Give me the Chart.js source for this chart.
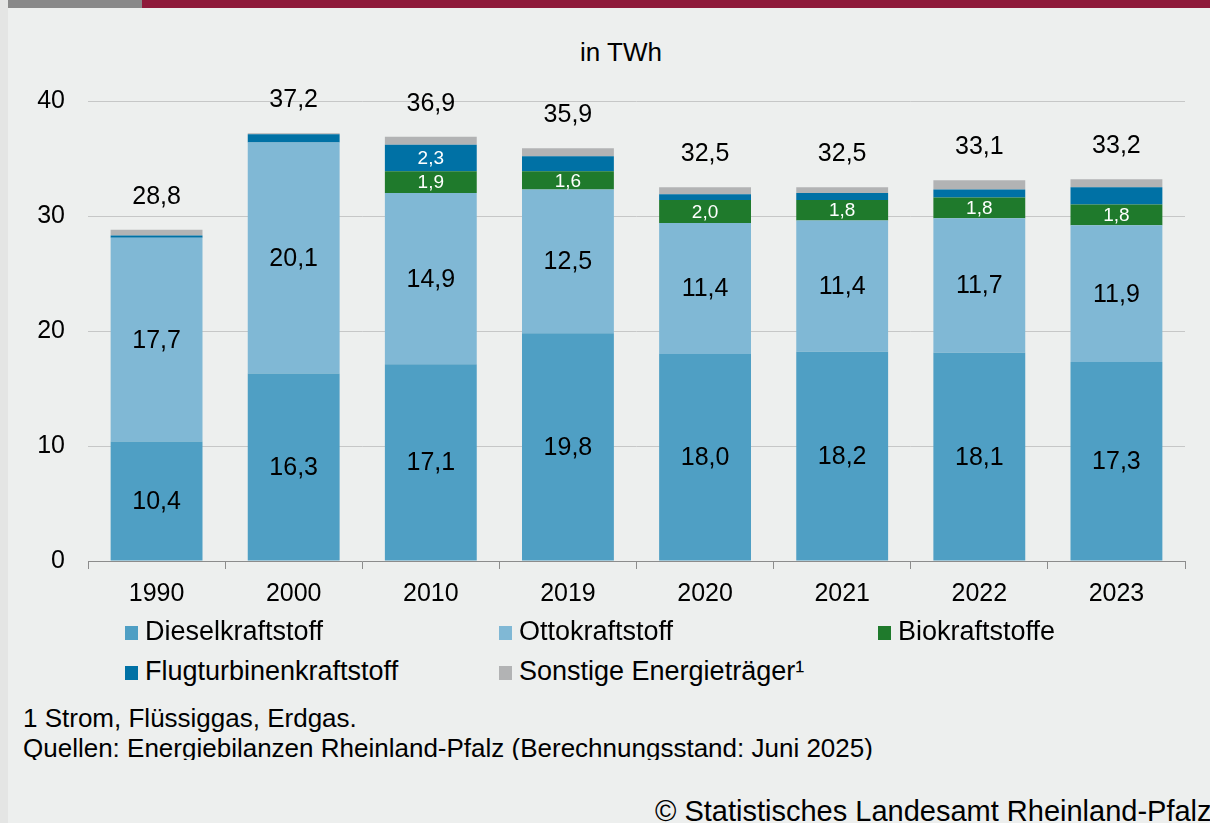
<!DOCTYPE html>
<html lang="de">
<head>
<meta charset="utf-8">
<title>Kraftstoffverbrauch Rheinland-Pfalz</title>
<script src="https://cdn.jsdelivr.net/npm/chart.js@4/dist/chart.umd.min.js"></script>
<style>
  html, body { margin: 0; padding: 0; }
  body {
    width: 1210px; height: 823px; overflow: hidden; position: relative;
    background: #edefee;
    font-family: 'Liberation Sans', Arial, sans-serif; color: #000;
  }
  .edge { position: absolute; left: 0; top: 0; width: 8px; height: 823px; background: #e4e5e4; }
  .bar-grey { position: absolute; left: 8px; top: 0; width: 134px; height: 8px; background: #898989; }
  .bar-red { position: absolute; left: 142px; top: 0; width: 1068px; height: 8px; background: #8e1a3a; }
  .unit { position: absolute; left: 521px; width: 200px; top: 37px; text-align: center; font-size: 26px; line-height: 30px; }
  #wrap { position: absolute; left: 0; top: 0; width: 1210px; height: 620px; }
  .legend { position: absolute; left: 0; top: 0; font-size: 27px; line-height: 30px; }
  .legend .item { position: absolute; white-space: nowrap; }
  .legend .sw { display: inline-block; width: 13px; height: 14px; margin-right: 7px; vertical-align: 0px; }
  .notes { position: absolute; left: 23px; top: 703px; width: 1000px; height: 57px; overflow: hidden; font-size: 26px; line-height: 30px; white-space: nowrap; }
  .copy { position: absolute; left: 655px; top: 795px; font-size: 29px; line-height: 32px; white-space: nowrap; }
</style>
</head>
<body>
<div class="edge"></div>
<div class="bar-grey"></div>
<div class="bar-red"></div>
<div class="unit">in TWh</div>
<div id="wrap"><canvas id="chart"></canvas></div>
<div class="legend" id="legend"></div>
<div class="notes">1 Strom, Flüssiggas, Erdgas.<br>Quellen: Energiebilanzen Rheinland-Pfalz (Berechnungsstand: Juni 2025)</div>
<div class="copy">© Statistisches Landesamt Rheinland-Pfalz</div>

<script>
// Jahre und Werte in TWh
const years = ['1990', '2000', '2010', '2019', '2020', '2021', '2022', '2023'];
const diesel = [10.4, 16.3, 17.1, 19.8, 18.0, 18.2, 18.1, 17.3];
const otto = [17.7, 20.1, 14.9, 12.5, 11.4, 11.4, 11.7, 11.9];
const bio = [0, 0, 1.9, 1.6, 2.0, 1.8, 1.8, 1.8];
const flug = [0.2, 0.7, 2.3, 1.3, 0.5, 0.6, 0.7, 1.5];
const sonstige = [0.5, 0.1, 0.7, 0.7, 0.6, 0.5, 0.8, 0.7];
const totals = [28.8, 37.2, 36.9, 35.9, 32.5, 32.5, 33.1, 33.2];
const yTicks = [0, 10, 20, 30, 40];

// welche Segmentwerte beschriftet werden
const labelBio = [false, false, true, true, true, true, true, true];
const labelFlug = [false, false, true, false, false, false, false, false];

const COLORS = {
    diesel: '#4f9fc4',
    otto: '#80b8d5',
    bio: '#1f7a2c',
    flug: '#0071a5',
    sonstige: '#b2b3b4',
};

const FONT = 'Liberation Sans';
const fmt = v => v.toFixed(1).replace('.', ',');

const series = [
    { label: 'Dieselkraftstoff', data: diesel, color: COLORS.diesel, show: years.map(() => true), style: 'dark' },
    { label: 'Ottokraftstoff', data: otto, color: COLORS.otto, show: years.map(() => true), style: 'dark' },
    { label: 'Biokraftstoffe', data: bio, color: COLORS.bio, show: labelBio, style: 'light' },
    { label: 'Flugturbinenkraftstoff', data: flug, color: COLORS.flug, show: labelFlug, style: 'light' },
    { label: 'Sonstige Energieträger¹', data: sonstige, color: COLORS.sonstige, show: years.map(() => false), style: 'dark' },
];

// Beschriftungen in den Segmenten und Summen über den Säulen
const barLabels = {
    id: 'barLabels',
    afterDatasetsDraw(chart) {
        const ctx = chart.ctx;
        ctx.save();
        ctx.textAlign = 'center';
        ctx.textBaseline = 'middle';
        series.forEach((s, di) => {
            const meta = chart.getDatasetMeta(di);
            meta.data.forEach((bar, i) => {
                if (!s.show[i]) return;
                const mid = (bar.y + bar.base) / 2;
                if (s.style === 'dark') {
                    ctx.fillStyle = '#000';
                    ctx.font = `25px "${FONT}"`;
                } else {
                    ctx.fillStyle = '#ffffff';
                    ctx.font = `19px "${FONT}"`;
                }
                ctx.fillText(fmt(s.data[i]), bar.x, mid + 1);
            });
        });
        const y = chart.scales.y;
        const x = chart.scales.x;
        ctx.fillStyle = '#000';
        ctx.font = `25px "${FONT}"`;
        totals.forEach((t, i) => {
            ctx.fillText(fmt(t), x.getPixelForValue(i), y.getPixelForValue(t) - 33);
        });
        ctx.restore();
    },
};

new Chart(document.getElementById('chart'), {
    type: 'bar',
    data: {
        labels: years,
        datasets: series.map(s => ({
            label: s.label,
            data: s.data,
            backgroundColor: s.color,
            borderWidth: 0,
            categoryPercentage: 1,
            barPercentage: 0.67,
        })),
    },
    options: {
        responsive: true,
        maintainAspectRatio: false,
        animation: false,
        layout: { padding: { top: 101, right: 25, left: 0, bottom: 0 } },
        plugins: {
            legend: { display: false },
            tooltip: { enabled: false },
        },
        scales: {
            x: {
                stacked: true,
                grid: {
                    offset: true,
                    drawOnChartArea: false,
                    drawTicks: true,
                    tickLength: 8,
                    color: '#8c8c8c',
                },
                border: { color: '#8c8c8c', width: 1 },
                ticks: { color: '#000', font: { family: FONT, size: 25 }, padding: 10 },
                afterFit: scale => { scale.height = 59; },
            },
            y: {
                stacked: true,
                min: 0,
                max: 40,
                afterBuildTicks: scale => { scale.ticks = yTicks.map(v => ({ value: v })); },
                grid: { color: '#c6c7c7', drawTicks: false, lineWidth: 1 },
                border: { display: false },
                ticks: { color: '#000', font: { family: FONT, size: 25 }, padding: 23 },
                afterFit: scale => { scale.width = 88; },
            },
        },
    },
    plugins: [barLabels],
});

// Legende (3 Spalten, 2 Zeilen)
const legendPos = [
    [125, 616], [499, 616], [878, 616],
    [125, 656], [499, 656],
];
const legend = document.getElementById('legend');
series.forEach((s, i) => {
    const el = document.createElement('div');
    el.className = 'item';
    el.style.left = legendPos[i][0] + 'px';
    el.style.top = legendPos[i][1] + 'px';
    el.innerHTML = `<span class="sw" style="background:${s.color}"></span>${s.label}`;
    legend.appendChild(el);
});
</script>
</body>
</html>
